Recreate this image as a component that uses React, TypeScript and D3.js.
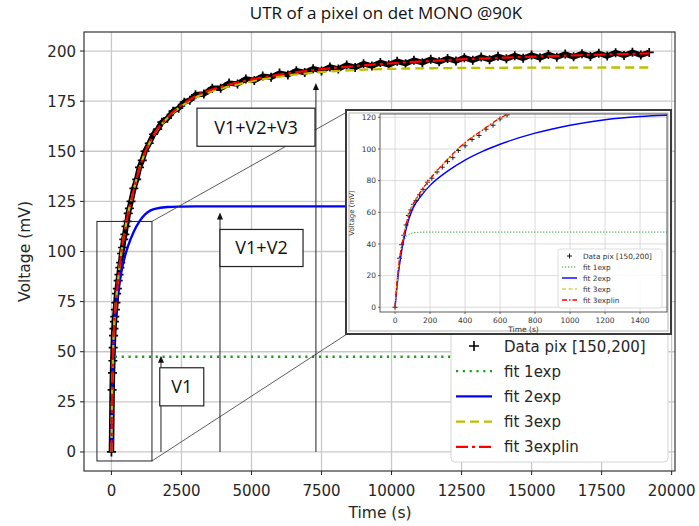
import React from 'react';
import * as d3 from 'd3';

// ---- data (time in s, voltage in mV) ----
const dataT = [0, 25, 38, 50, 63, 76, 90, 105, 120, 140, 160, 185, 210, 240, 270, 300, 330, 362, 400, 440, 480, 520, 560, 600, 640, 700, 800, 900, 1000, 1100, 1200, 1350, 1500, 1650, 1800, 2000, 2200, 2400, 2600, 2800,
  3000, 3300, 3600, 3900, 4200, 4500, 4800, 5100, 5400, 5700, 6000, 6300, 6600, 6900, 7200, 7500, 7800, 8100, 8400, 8700, 9000, 9300, 9600, 9900, 10200, 10500, 10800, 11100, 11400, 11700, 12000, 12300, 12600, 12900, 13200, 13500, 13800, 14100, 14400, 14700, 15000, 15300, 15600, 15900, 16200, 16500, 16800, 17100, 17400, 17700, 18000, 18300, 18600, 18900, 19200];
const dataV = [0, 31, 39.5, 45.5, 52, 58, 61.5, 65, 67.5, 71, 74.5, 79, 81.5, 85.5, 88.5, 92, 94.5, 99, 102, 106, 108.5, 112.5, 115, 119, 121.5, 125, 131.5, 136, 142, 145.5, 150, 154, 158.5, 161, 164.5, 166.5, 170, 171.5, 174.5, 175.5,
  178.2, 178.6, 181.5, 181.4, 184.0, 183.6, 186.1, 185.3, 187.5, 186.9, 189.0, 188.1, 190.2, 189.3, 191.2, 190.1, 192.1, 191.0, 193.0, 191.8, 193.7, 192.5, 194.3, 193.1, 194.9, 193.7, 195.4, 194.2, 195.9, 194.6, 196.3, 195.0, 196.7, 195.4, 197.0, 195.7, 197.4, 196.1, 197.7, 196.4, 198.0, 196.6, 198.3, 196.9, 198.5, 197.1, 198.7, 197.3, 198.9, 197.5, 199.2, 197.8, 199.4, 198.0, 199.3];

const fit1T = [0, 10, 20, 30, 40, 50, 60, 80, 100, 130, 160, 200, 19200];
const fit1V = [0, 15, 26, 33, 38.5, 42, 44, 46, 46.9, 47.3, 47.5, 47.5, 47.5];

const fit2T = [0, 20, 40, 60, 80, 100, 150, 200, 300, 400, 500, 600, 800, 1000, 1200, 1400, 1550, 2000, 2500, 3000, 4000, 19200];
const fit2V = [0, 22, 37, 48, 56, 62, 70.5, 77, 86, 93, 98.5, 103, 110, 115, 118.5, 120.5, 121.3, 122.2, 122.4, 122.5, 122.5, 122.5];

const fit3T = [0, 10, 25, 40, 60, 80, 100, 150, 200, 300, 400, 500, 600, 700, 800, 1000, 1200, 1500, 2000, 2500, 3000, 4000, 5000, 6000, 7000, 8000, 9000, 10000, 12000, 15000, 19200];
const fit3V = [0, 14, 30, 40, 50.5, 59, 64, 73.5, 81, 93.5, 104, 112, 119.5, 125, 131, 141.5, 149.3, 157.7, 166.6, 172.5, 176.8, 181.6, 184.9, 187.3, 188.9, 190.0, 190.7, 191.1, 191.5, 191.7, 191.8];

const fit3linT = [0, 10, 25, 40, 60, 80, 100, 150, 200, 300, 400, 500, 600, 700, 800, 1000, 1200, 1500, 2000, 2500, 3000, 4000, 5000, 6000, 7000, 8000, 10000, 12000, 14000, 16000, 18000, 19200];
const fit3linV = [0, 14, 30, 40, 50.5, 59, 64, 73.5, 81, 93.5, 104, 112, 119.5, 125, 131, 141.5, 149.5, 158, 167, 173, 177.5, 182.5, 185.8, 188.2, 190.1, 191.6, 193.9, 195.5, 196.7, 197.6, 198.4, 198.8];

const xTickVals = [0, 2500, 5000, 7500, 10000, 12500, 15000, 17500, 20000];
const yTickVals = [0, 25, 50, 75, 100, 125, 150, 175, 200];
const insetXTicks = [0, 200, 400, 600, 800, 1000, 1200, 1400];
const insetYTicks = [0, 20, 40, 60, 80, 100, 120];
const legendLabels = ['Data pix [150,200]', 'fit 1exp', 'fit 2exp', 'fit 3exp', 'fit 3explin'];

// annotations, in data units of the main axes
const zoomBox = { t0: -518, t1: 1446, v0: -4.5, v1: 115 };
const notes = [
  { label: 'V1', t: 1768, tip: 48, box: [1725, 3296, 23, 42] },
  { label: 'V1+V2', t: 3875, tip: 119.5, box: [3875, 6840, 92.5, 111] },
  { label: 'V1+V2+V3', t: 7300, tip: 184, box: [3054, 7268, 152.5, 171.5] },
];

type P = [number, number];
const zip = (t: number[], v: number[]): P[] => t.map((d, i) => [d, v[i]]);
const plus = (cx: number, cy: number, s: number) => `M${cx - s},${cy}h${2 * s}M${cx},${cy - s}v${2 * s}`;

const FONT = 'DejaVu Sans, sans-serif';
const BOXFONT = 'Open Sans, sans-serif';

const styles = [
  { color: '#1f9a1f', dash: '2.2,4.6', w: 2.3, idash: '1.2,1.8', iw: 1 },
  { color: '#0000ff', dash: undefined, w: 2.4, idash: undefined, iw: 1.4 },
  { color: '#bfbf00', dash: '9,5', w: 2.3, idash: '4,2.5', iw: 1.2 },
  { color: '#ff0000', dash: '12,4,3,4', w: 2.2, idash: '5,2,1.5,2', iw: 1.3 },
];

const App = () => {
  const x = d3.scaleLinear().domain([-980, 20120]).range([84, 675]);
  const y = d3.scaleLinear().domain([-9.5, 209.5]).range([471, 32]);
  const ix = d3.scaleLinear().domain([-86, 1554]).range([380, 667]);
  const iy = d3.scaleLinear().domain([-3, 122.1]).range([312, 114]);

  const fits = [zip(fit1T, fit1V), zip(fit2T, fit2V), zip(fit3T, fit3V), zip(fit3linT, fit3linV)];
  const data = zip(dataT, dataV);

  const lineMain = d3.line<P>().x(d => x(d[0])).y(d => y(d[1])).curve(d3.curveMonotoneX);
  const lineInset = d3.line<P>().x(d => ix(d[0])).y(d => iy(d[1])).curve(d3.curveMonotoneX);
  const dataLine = d3.line<P>().x(d => x(d[0])).y(d => y(d[1]));

  const [x0, x1] = x.range();
  const [yb, yt] = y.range();
  const [ix0, ix1] = ix.range();
  const [iyb, iyt] = iy.range();

  // inset picture frame (layout)
  const inset = { x: 346, y: 110, w: 325, h: 224 };

  const legRows = legendLabels.map((_, i) => 346 + i * 25.2);
  const iLegRows = legendLabels.map((_, i) => 256 + i * 11);

  const legendSample = (i: number, lx0: number, lx1: number, cy: number, small: boolean) => {
    if (i === 0) {
      return <path d={plus((lx0 + lx1) / 2, cy, small ? 2.5 : 5)} stroke="#000" strokeWidth={small ? 0.9 : 1.6} />;
    }
    const s = styles[i - 1];
    return (
      <line x1={lx0} x2={lx1} y1={cy} y2={cy} stroke={s.color}
        strokeWidth={small ? s.iw : s.w} strokeDasharray={small ? s.idash : s.dash} />
    );
  };

  return (
    <svg width={699} height={526} style={{ position: 'absolute', left: 0, top: 0, background: '#fff' }}
      fontFamily={FONT}>
      <defs>
        <clipPath id="mainClip"><rect x={x0} y={yt} width={x1 - x0} height={yb - yt} /></clipPath>
        <clipPath id="insetClip"><rect x={ix0} y={iyt} width={ix1 - ix0} height={iyb - iyt} /></clipPath>
      </defs>

      {/* title */}
      <text x={386} y={19} textAnchor="middle" fontFamily={BOXFONT} fontSize={17} fill="#111">
        UTR of a pixel on det MONO @90K
      </text>

      {/* main grid */}
      <g stroke="#c9c9c9" strokeWidth={1.3}>
        {xTickVals.map(t => <line key={t} x1={x(t)} x2={x(t)} y1={yt} y2={yb} />)}
        {yTickVals.map(v => <line key={v} x1={x0} x2={x1} y1={y(v)} y2={y(v)} />)}
      </g>

      {/* main series */}
      <g clipPath="url(#mainClip)">
        <path d={dataLine(data) || ''} fill="none" stroke="#000" strokeWidth={5.5} strokeLinejoin="round" />
        {data.map((d, i) => (
          <path key={i} d={plus(x(d[0]), y(d[1]), 4.5)} stroke="#000" strokeWidth={1.7} />
        ))}
        {fits.map((f, i) => (
          <path key={i} d={lineMain(f) || ''} fill="none" stroke={styles[i].color}
            strokeWidth={styles[i].w} strokeDasharray={styles[i].dash} />
        ))}
      </g>

      {/* main frame, ticks, labels */}
      <rect x={x0} y={yt} width={x1 - x0} height={yb - yt} fill="none" stroke="#222" strokeWidth={1.1} />
      <g stroke="#222" strokeWidth={1}>
        {xTickVals.map(t => <line key={t} x1={x(t)} x2={x(t)} y1={yb} y2={yb + 4} />)}
        {yTickVals.map(v => <line key={v} x1={x0 - 4} x2={x0} y1={y(v)} y2={y(v)} />)}
      </g>
      <g fontSize={15} fill="#262626">
        {xTickVals.map(t => <text key={t} x={x(t)} y={496} textAnchor="middle">{t}</text>)}
        {yTickVals.map(v => <text key={v} x={x0 - 8} y={y(v) + 5.5} textAnchor="end">{v}</text>)}
      </g>
      <text x={380} y={518} textAnchor="middle" fontSize={15.5} fill="#262626">Time (s)</text>
      <text transform={`translate(30,${(yt + yb) / 2}) rotate(-90)`} textAnchor="middle" fontSize={15.5} fill="#262626">
        Voltage (mV)
      </text>

      {/* main legend */}
      <rect x={451} y={331} width={217} height={131} rx={4} fill="#fff" stroke="#d4d4d4" />
      {legendLabels.map((lab, i) => (
        <g key={lab}>
          {legendSample(i, 456, 492, legRows[i], false)}
          <text x={504} y={legRows[i] + 5.5} fontSize={15} fill="#262626">{lab}</text>
        </g>
      ))}

      {/* annotations */}
      <rect x={x(zoomBox.t0)} y={y(zoomBox.v1)} width={x(zoomBox.t1) - x(zoomBox.t0)}
        height={y(zoomBox.v0) - y(zoomBox.v1)} fill="none" stroke="#222" strokeWidth={1} />
      <g stroke="#333" strokeWidth={0.8}>
        <line x1={x(zoomBox.t1)} y1={y(zoomBox.v1)} x2={inset.x + 1} y2={inset.y + 2} />
        <line x1={x(zoomBox.t1)} y1={y(zoomBox.v0)} x2={inset.x + 1} y2={inset.y + inset.h} />
      </g>
      {notes.map(n => {
        const ax = x(n.t);
        const ty = y(n.tip);
        const [b0, b1, bv0, bv1] = n.box;
        return (
          <g key={n.label}>
            <line x1={ax} x2={ax} y1={y(0)} y2={ty + 5} stroke="#222" strokeWidth={1} />
            <path d={`M${ax},${ty}L${ax - 3},${ty + 7}L${ax + 3},${ty + 7}Z`} fill="#111" />
            <rect x={x(b0)} y={y(bv1)} width={x(b1) - x(b0)} height={y(bv0) - y(bv1)}
              fill="#fff" stroke="#222" strokeWidth={1.2} />
            <text x={(x(b0) + x(b1)) / 2} y={(y(bv0) + y(bv1)) / 2 + 6.5} textAnchor="middle"
              fontFamily={BOXFONT} fontSize={18} fill="#111">{n.label}</text>
          </g>
        );
      })}

      {/* inset picture */}
      <rect x={inset.x} y={inset.y} width={inset.w} height={inset.h} fill="#fff" stroke="#3a3a3a" strokeWidth={2} />
      <rect x={inset.x + 3} y={inset.y + 3} width={inset.w - 6} height={inset.h - 6} fill="none" stroke="#b5b5b5" strokeWidth={1} />
      <g stroke="#d2d2d2" strokeWidth={0.8}>
        {insetXTicks.map(t => <line key={t} x1={ix(t)} x2={ix(t)} y1={iyt} y2={iyb} />)}
        {insetYTicks.map(v => <line key={v} x1={ix0} x2={ix1} y1={iy(v)} y2={iy(v)} />)}
      </g>
      <g clipPath="url(#insetClip)">
        {data.map((d, i) => (
          <path key={i} d={plus(ix(d[0]), iy(d[1]), 2.5)} stroke="#111" strokeWidth={0.9} />
        ))}
        {fits.map((f, i) => (
          <path key={i} d={lineInset(f) || ''} fill="none" stroke={styles[i].color}
            strokeWidth={styles[i].iw} strokeDasharray={styles[i].idash} />
        ))}
      </g>
      <rect x={ix0} y={iyt} width={ix1 - ix0} height={iyb - iyt} fill="none" stroke="#333" strokeWidth={0.8} />
      <g stroke="#333" strokeWidth={0.7}>
        {insetXTicks.map(t => <line key={t} x1={ix(t)} x2={ix(t)} y1={iyb} y2={iyb + 2} />)}
        {insetYTicks.map(v => <line key={v} x1={ix0 - 2} x2={ix0} y1={iy(v)} y2={iy(v)} />)}
      </g>
      <g fontSize={7.5} fill="#333">
        {insetXTicks.map(t => <text key={t} x={ix(t)} y={322.5} textAnchor="middle">{t}</text>)}
        {insetYTicks.map(v => <text key={v} x={ix0 - 4} y={iy(v) + 2.7} textAnchor="end">{v}</text>)}
      </g>
      <text x={(ix0 + ix1) / 2} y={331.5} textAnchor="middle" fontSize={7.5} fill="#333">Time (s)</text>
      <text transform={`translate(354,${(iyt + iyb) / 2}) rotate(-90)`} textAnchor="middle" fontSize={7} fill="#333">
        Voltage (mV)
      </text>
      <rect x={558} y={249} width={104} height={59} rx={2} fill="#fff" fillOpacity={0.85} stroke="#d4d4d4" strokeWidth={0.8} />
      {legendLabels.map((lab, i) => (
        <g key={lab}>
          {legendSample(i, 562, 577, iLegRows[i], true)}
          <text x={583} y={iLegRows[i] + 2.7} fontSize={7.3} fill="#333">{lab}</text>
        </g>
      ))}
    </svg>
  );
};

export default App;
